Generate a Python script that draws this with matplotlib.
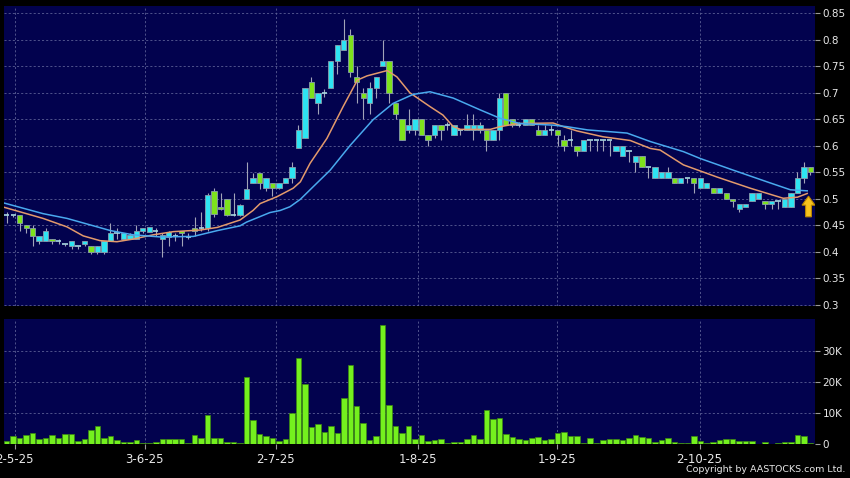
import numpy as np
import matplotlib.pyplot as plt
from matplotlib.patches import FancyArrow
from matplotlib.ticker import FuncFormatter

# daily candles, one entry per trading day (left to right)
opens = [0.47, 0.47, 0.47, 0.45, 0.445, 0.42, 0.42, 0.425, 0.42, 0.415,
         0.41, 0.41, 0.415, 0.41, 0.40, 0.40, 0.42, 0.435, 0.425, 0.425,
         0.425, 0.44, 0.438, 0.44, 0.425, 0.428, 0.43, 0.44, 0.428, 0.445,
         0.445, 0.445, 0.515, 0.485, 0.50, 0.47, 0.47, 0.50, 0.53, 0.548,
         0.52, 0.53, 0.52, 0.53, 0.54, 0.595, 0.615, 0.72, 0.68, 0.70,
         0.71, 0.76, 0.78, 0.81, 0.73, 0.70, 0.68, 0.71, 0.75, 0.76,
         0.68, 0.65, 0.63, 0.63, 0.65, 0.62, 0.62, 0.64, 0.64, 0.62,
         0.63, 0.63, 0.63, 0.63, 0.63, 0.61, 0.63, 0.70, 0.65, 0.64,
         0.64, 0.65, 0.63, 0.62, 0.63, 0.63, 0.61, 0.61, 0.60, 0.59,
         0.61, 0.61, 0.61, 0.61, 0.59, 0.58, 0.59, 0.57, 0.58, 0.56,
         0.54, 0.54, 0.54, 0.54, 0.53, 0.54, 0.54, 0.52, 0.52, 0.52,
         0.51, 0.51, 0.50, 0.48, 0.485, 0.495, 0.50, 0.495, 0.49, 0.495,
         0.485, 0.485, 0.51, 0.54, 0.56]
highs = [0.475, 0.47, 0.47, 0.45, 0.45, 0.43, 0.445, 0.425, 0.425, 0.415,
         0.42, 0.41, 0.42, 0.41, 0.41, 0.42, 0.455, 0.445, 0.435, 0.435,
         0.45, 0.445, 0.447, 0.445, 0.435, 0.44, 0.435, 0.44, 0.435, 0.465,
         0.475, 0.51, 0.52, 0.51, 0.50, 0.51, 0.49, 0.57, 0.548, 0.548,
         0.54, 0.53, 0.53, 0.54, 0.57, 0.64, 0.71, 0.73, 0.70, 0.707,
         0.76, 0.79, 0.84, 0.82, 0.75, 0.71, 0.72, 0.73, 0.80, 0.76,
         0.68, 0.65, 0.67, 0.65, 0.65, 0.62, 0.64, 0.64, 0.645, 0.64,
         0.63, 0.66, 0.66, 0.645, 0.63, 0.63, 0.70, 0.70, 0.65, 0.645,
         0.65, 0.65, 0.64, 0.64, 0.64, 0.63, 0.62, 0.63, 0.60, 0.61,
         0.61, 0.61, 0.61, 0.61, 0.60, 0.60, 0.59, 0.58, 0.58, 0.56,
         0.56, 0.55, 0.56, 0.54, 0.54, 0.54, 0.54, 0.54, 0.53, 0.52,
         0.52, 0.51, 0.50, 0.49, 0.49, 0.51, 0.51, 0.495, 0.495, 0.495,
         0.50, 0.51, 0.55, 0.57, 0.56]
lows = [0.455, 0.465, 0.44, 0.435, 0.41, 0.415, 0.42, 0.415, 0.415, 0.41,
        0.405, 0.405, 0.41, 0.395, 0.395, 0.395, 0.42, 0.425, 0.425, 0.425,
        0.425, 0.435, 0.438, 0.43, 0.39, 0.41, 0.42, 0.41, 0.425, 0.43,
        0.44, 0.44, 0.465, 0.478, 0.468, 0.468, 0.468, 0.50, 0.53, 0.518,
        0.515, 0.505, 0.518, 0.53, 0.53, 0.595, 0.615, 0.69, 0.66, 0.693,
        0.71, 0.735, 0.78, 0.73, 0.68, 0.65, 0.66, 0.69, 0.75, 0.68,
        0.65, 0.61, 0.625, 0.62, 0.62, 0.60, 0.615, 0.61, 0.63, 0.62,
        0.62, 0.63, 0.61, 0.625, 0.59, 0.61, 0.61, 0.64, 0.635, 0.635,
        0.64, 0.64, 0.62, 0.62, 0.62, 0.60, 0.59, 0.60, 0.58, 0.59,
        0.59, 0.59, 0.59, 0.58, 0.59, 0.58, 0.57, 0.55, 0.56, 0.54,
        0.54, 0.54, 0.54, 0.53, 0.53, 0.53, 0.51, 0.52, 0.52, 0.51,
        0.51, 0.50, 0.485, 0.475, 0.485, 0.495, 0.50, 0.48, 0.48, 0.48,
        0.485, 0.485, 0.51, 0.53, 0.545]
closes = [0.47, 0.47, 0.455, 0.445, 0.43, 0.43, 0.44, 0.42, 0.42, 0.415,
          0.42, 0.41, 0.42, 0.40, 0.41, 0.42, 0.435, 0.435, 0.435, 0.432,
          0.44, 0.445, 0.447, 0.44, 0.432, 0.437, 0.43, 0.435, 0.428, 0.44,
          0.445, 0.508, 0.472, 0.48, 0.47, 0.47, 0.488, 0.518, 0.54, 0.53,
          0.54, 0.52, 0.53, 0.54, 0.56, 0.63, 0.71, 0.69, 0.70, 0.70,
          0.76, 0.79, 0.80, 0.74, 0.72, 0.69, 0.71, 0.73, 0.76, 0.70,
          0.66, 0.61, 0.64, 0.65, 0.62, 0.61, 0.64, 0.63, 0.64, 0.64,
          0.63, 0.64, 0.64, 0.64, 0.61, 0.63, 0.69, 0.64, 0.64, 0.64,
          0.65, 0.64, 0.62, 0.63, 0.63, 0.62, 0.60, 0.61, 0.59, 0.61,
          0.61, 0.61, 0.61, 0.61, 0.60, 0.60, 0.59, 0.58, 0.56, 0.56,
          0.56, 0.55, 0.55, 0.53, 0.54, 0.54, 0.53, 0.54, 0.53, 0.51,
          0.52, 0.50, 0.495, 0.49, 0.49, 0.51, 0.51, 0.49, 0.495, 0.495,
          0.50, 0.51, 0.54, 0.56, 0.55]
# volume in thousands of shares
volumes = [0.9, 2.5, 1.8, 2.9, 3.3, 1.4, 1.8, 2.7, 1.7, 3.2,
           3.2, 0.8, 1.4, 4.3, 5.6, 1.9, 2.5, 1.1, 0.6, 0.6,
           1.1, 0.1, 0.2, 0.4, 1.3, 1.6, 1.4, 1.4, 0.3, 2.7,
           1.8, 9.1, 1.8, 1.8, 0.4, 0.4, 0.1, 21.5, 7.7, 3.2,
           2.5, 1.9, 0.8, 1.4, 10.0, 27.7, 19.1, 5.4, 6.2, 3.8,
           5.5, 3.3, 14.6, 25.3, 12.0, 6.5, 1.2, 2.4, 38.2, 12.4,
           5.5, 3.5, 5.5, 1.3, 2.7, 0.9, 1.1, 1.3, 0.2, 0.6,
           0.4, 1.5, 2.9, 1.3, 10.8, 7.8, 8.2, 3.2, 2.2, 1.5,
           1.1, 1.7, 2.0, 1.1, 1.3, 3.3, 3.7, 2.5, 2.4, 0.2,
           1.7, 0.1, 1.0, 1.3, 1.6, 1.1, 1.8, 2.6, 2.0, 1.8,
           0.5, 1.1, 1.7, 0.6, 0.2, 0.2, 2.4, 0.9, 0.1, 0.4,
           1.1, 1.6, 1.6, 0.8, 0.8, 0.8, 0.0, 0.4, 0.0, 0.1,
           0.4, 0.5, 2.9, 2.4, 0.3]

# moving averages (bar position, price)
ma_short_x = [-0.4, 5.6, 9.3, 11.8, 14.4, 17.0, 19.5, 22.6, 25.7, 29.8, 32.5,
              36.0, 38.0, 39.1, 41.7, 44.2, 45.3, 46.8, 49.4, 51.9, 54.1,
              55.6, 58.7, 60.2, 62.2, 65.3, 67.3, 68.9, 70.0, 74.6, 76.1,
              78.8, 84.3, 85.9, 88.0, 92.0, 96.2, 99.3, 100.8, 104.4, 109.6,
              114.7, 119.8, 122.0, 123.5]
ma_short = [0.484, 0.463, 0.447, 0.430, 0.421, 0.419, 0.424, 0.432, 0.438,
            0.441, 0.446, 0.460, 0.478, 0.491, 0.504, 0.520, 0.532, 0.567,
            0.614, 0.674, 0.724, 0.732, 0.742, 0.730, 0.700, 0.674, 0.658,
            0.636, 0.631, 0.631, 0.636, 0.642, 0.643, 0.636, 0.628, 0.617,
            0.610, 0.595, 0.592, 0.564, 0.541, 0.520, 0.501, 0.503, 0.510]
ma_long_x = [-0.4, 5.6, 9.3, 16.0, 19.5, 23.7, 28.8, 32.5, 36.0, 37.0, 40.6,
             42.2, 43.7, 45.3, 47.3, 49.9, 53.0, 56.5, 59.6, 62.7, 65.3,
             68.9, 73.0, 76.1, 79.2, 84.3, 86.5, 89.6, 95.7, 99.3, 104.4,
             107.0, 112.1, 117.3, 120.9, 123.5]
ma_long = [0.492, 0.472, 0.463, 0.440, 0.432, 0.428, 0.429, 0.440, 0.449,
           0.456, 0.474, 0.478, 0.485, 0.499, 0.523, 0.554, 0.601, 0.649,
           0.680, 0.697, 0.702, 0.690, 0.668, 0.652, 0.642, 0.639, 0.636,
           0.630, 0.624, 0.608, 0.589, 0.576, 0.554, 0.532, 0.517, 0.515]

date_pos = [1.2, 21.3, 41.5, 63.5, 84.9, 106.9]
date_labels = ['2-5-25', '3-6-25', '2-7-25', '1-8-25', '1-9-25', '2-10-25']
price_ticks = [0.3, 0.35, 0.4, 0.45, 0.5, 0.55, 0.6, 0.65, 0.7, 0.75, 0.8, 0.85]
vol_ticks = [0, 10, 20, 30]

BG = '#02024e'
GRID = '#5b5f95'
UP = '#2ee4f2'
DOWN = '#7ee21c'
TXT = '#e8e8e8'

fig = plt.figure(figsize=(8.5, 4.78), dpi=100, facecolor='black')
ax1 = fig.add_axes([4 / 850, 1 - 306 / 478, 811 / 850, 300 / 478])
ax2 = fig.add_axes([4 / 850, 1 - 443.5 / 478, 811 / 850, 124.5 / 478])

x = np.arange(len(opens))
o = np.array(opens); h = np.array(highs); l = np.array(lows); c = np.array(closes)

for ax in (ax1, ax2):
    ax.set_facecolor(BG)
    for s in ax.spines.values():
        s.set_visible(False)
    ax.set_xlim(-0.42, 124.7)
    ax.set_xticks(date_pos)
    ax.grid(True, color=GRID, linestyle=(0, (2.5, 2.5)), linewidth=0.6)
    ax.set_axisbelow(True)
    ax.yaxis.tick_right()
    ax.tick_params(axis='y', colors='#9a9a9a', labelcolor=TXT, labelsize=7.5,
                   length=3.5, width=0.8, pad=2)

# --- price panel ---
ax1.vlines(x, l, h, color='#a2a4b8', linewidth=0.8, zorder=2)
up = c > o
down = c < o
flat = c == o
ax1.bar(x[up], (c - o)[up], bottom=o[up], width=0.82, color=UP,
        edgecolor='#8a9cab', linewidth=0.6, zorder=3)
ax1.bar(x[down], (o - c)[down], bottom=c[down], width=0.82, color=DOWN,
        edgecolor='#8a9cab', linewidth=0.6, zorder=3)
ax1.hlines(c[flat], x[flat] - 0.41, x[flat] + 0.41, color='#a8d8e0',
           linewidth=1.2, zorder=3)

ax1.plot(ma_short_x, ma_short, color='#e39a6c', linewidth=1.1, zorder=4)
ax1.plot(ma_long_x, ma_long, color='#49a9ee', linewidth=1.1, zorder=4)

ax1.add_patch(FancyArrow(123.7, 0.466, 0, 0.022, width=0.9, head_width=2.0,
                         head_length=0.017, length_includes_head=False,
                         fc='#f6c21d', ec='#b98400', linewidth=0.8, zorder=5))

ax1.set_ylim(0.2977, 0.8638)
ax1.set_yticks(price_ticks)
ax1.yaxis.set_major_formatter(FuncFormatter(lambda v, p: '%g' % round(v, 2)))
ax1.tick_params(axis='x', bottom=False, labelbottom=False)

# --- volume panel ---
ax2.bar(x, volumes, width=0.85, color='#74f01e', edgecolor='#3c8a10',
        linewidth=0.5, zorder=3)
ax2.set_ylim(0, 40.2)
ax2.set_yticks(vol_ticks)
ax2.set_yticklabels(['0' if v == 0 else '%dK' % v for v in vol_ticks])
ax2.set_xticklabels(date_labels)
ax2.tick_params(axis='x', colors='#9a9a9a', labelcolor=TXT, labelsize=8.5,
                length=3.5, width=0.8, pad=3)

fig.text(845 / 850, 4 / 478, 'Copyright by AASTOCKS.com Ltd.', ha='right',
         va='bottom', color=TXT, fontsize=6.8)

fig.savefig('out.png', dpi=100, facecolor='black')
